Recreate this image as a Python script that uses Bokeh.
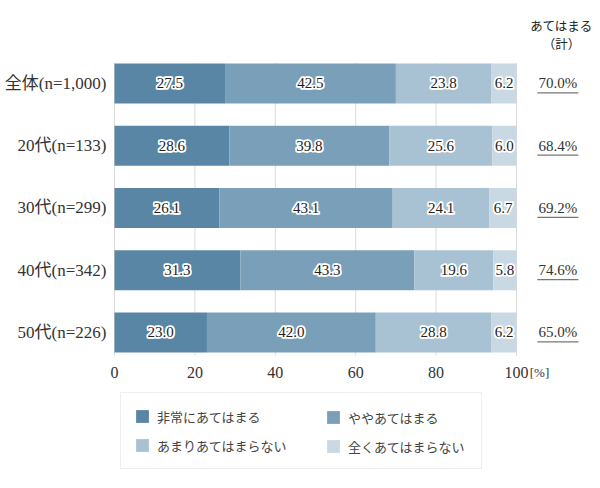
from bokeh.plotting import figure
from bokeh.models import Range1d, Legend, LegendItem, ColumnDataSource
from bokeh.core.properties import value
from bokeh.embed import file_html
from bokeh.resources import INLINE

# ---- data ----
categories = ["全体(n=1,000)", "20代(n=133)", "30代(n=299)", "40代(n=342)", "50代(n=226)"]
series_names = ["非常にあてはまる", "ややあてはまる", "あまりあてはまらない", "全くあてはまらない"]
very_much = [27.5, 28.6, 26.1, 31.3, 23.0]
somewhat = [42.5, 39.8, 43.1, 43.3, 42.0]
not_much = [23.8, 25.6, 24.1, 19.6, 28.8]
not_at_all = [6.2, 6.0, 6.7, 5.8, 6.2]
x_ticks = [0, 20, 40, 60, 80, 100]
x_unit = "[%]"
header_lines = ["あてはまる", "（計）"]

# ---- styles ----
colors = ["#5a86a5", "#799fb9", "#a8c2d3", "#c9d9e4"]
SERIF = "'Liberation Serif', 'Noto Sans CJK JP'"
SANS = "'Noto Sans CJK JP'"
TXT = "#333333"

series = [very_much, somewhat, not_much, not_at_all]
n = len(categories)
ypos = list(range(n))

p = figure(width=600, height=488, output_backend="svg", toolbar_location=None,
           x_range=Range1d(-28.36, 120.90), y_range=Range1d(6.506, -1.333),
           x_axis_location=None, y_axis_location=None, min_border=0,
           outline_line_color=None)
p.xgrid.visible = False
p.ygrid.visible = False

# grid lines
p.segment(x0=x_ticks, x1=x_ticks, y0=[-0.33] * len(x_ticks), y1=[4.37] * len(x_ticks),
          line_color="#d9d9d9", line_width=1)

# stacked bars
BAR_H = 0.643
left = [0.0] * n
renderers = []
label_sources = []
for k, vals in enumerate(series):
    right = [l + v for l, v in zip(left, vals)]
    src = ColumnDataSource(dict(y=ypos, left=left, right=right,
                                mid=[(l + r) / 2 for l, r in zip(left, right)],
                                lab=[f"{v:.1f}" for v in vals]))
    r = p.hbar(y="y", left="left", right="right", height=BAR_H, source=src,
               fill_color=colors[k], line_color=None)
    renderers.append(r)
    label_sources.append(src)
    left = right

# value labels: dark text with a white halo
offsets = [(-1, -1), (0, -1), (1, -1), (-1, 0), (1, 0), (-1, 1), (0, 1), (1, 1)]
for src in label_sources:
    for dx, dy in offsets:
        p.text(x="mid", y="y", text="lab", source=src, text_align="center",
               text_baseline="middle", text_font=value(SERIF), text_font_size="15px",
               text_color="white", text_outline_color="white", x_offset=dx, y_offset=dy)
    p.text(x="mid", y="y", text="lab", source=src, text_align="center",
           text_baseline="middle", text_font=value(SERIF), text_font_size="15px",
           text_color="#222222")

# category labels
p.text(x=[-2.0] * n, y=ypos, text=categories, text_align="right", text_baseline="middle",
       text_font=value(SERIF), text_font_size="17px", text_color=TXT)

# x tick labels (placed through the x scale)
tick_y = 4.643
p.text(x=x_ticks, y=[tick_y] * len(x_ticks), text=[str(t) for t in x_ticks],
       text_align="center", text_baseline="middle", text_font=value(SERIF),
       text_font_size="16px", text_color=TXT)
p.text(x=[103.3], y=[tick_y], text=[x_unit], text_align="left", text_baseline="middle",
       text_font=value(SERIF), text_font_size="13px", text_color=TXT)

# totals (あてはまる 計)
totals = [f"{a + b:.1f}%" for a, b in zip(very_much, somewhat)]
p.text(x=[110.3] * n, y=ypos, text=totals, text_align="center", text_baseline="middle",
       text_font=value(SERIF), text_font_size="15px", text_color=TXT)
p.segment(x0=[105.2] * n, x1=[115.4] * n, y0=[y + 0.15 for y in ypos], y1=[y + 0.15 for y in ypos],
          line_color="#777777", line_width=1.2)

# header
p.text(x=[111.2, 111.2], y=[-0.93, -0.64], text=header_lines, text_align="center",
       text_baseline="middle", text_font=value(SANS), text_font_size="12.5px",
       text_color="#222222")

# legend: bordered box with left column, plus a transparent right column
common = dict(label_text_font=SANS, label_text_font_size="13px", label_text_color="#444444",
              glyph_width=16, glyph_height=16, label_standoff=7, label_height=20,
              spacing=9, padding=13, margin=0)
legend_left = Legend(items=[LegendItem(label=series_names[k], renderers=[renderers[k]]) for k in (0, 2)],
                     location=(120, 19), border_line_color="#dddddd", label_width=311, **common)
legend_right = Legend(items=[LegendItem(label=series_names[k], renderers=[renderers[k]]) for k in (1, 3)],
                      location=(312, 19), border_line_color="white", border_line_alpha=0,
                      background_fill_alpha=0, **common)
p.add_layout(legend_left)
p.add_layout(legend_right)

open("out.html", "w").write(file_html(p, INLINE))
